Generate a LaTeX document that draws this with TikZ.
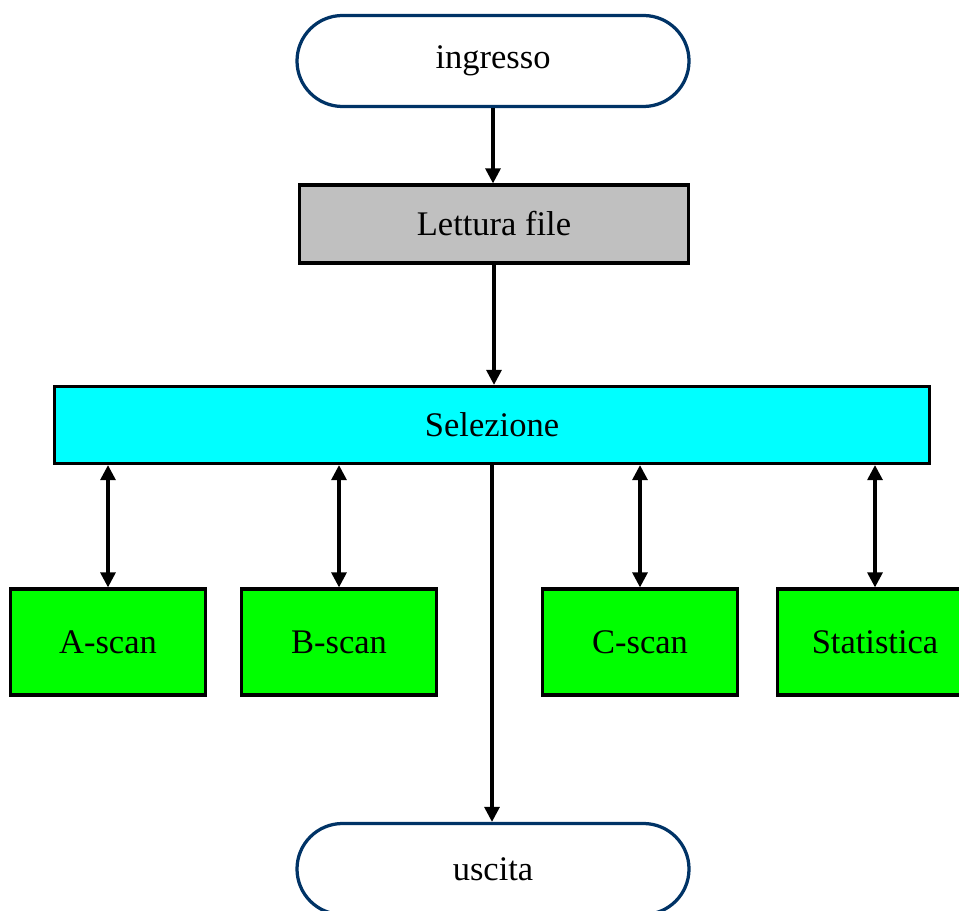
\documentclass[tikz,border=0pt]{standalone}
\usepackage{fontspec}
\setmainfont{Liberation Serif}
\usetikzlibrary{arrows.meta,shapes.misc}
\definecolor{termblue}{RGB}{0,51,102}
\definecolor{silvergray}{RGB}{192,192,192}
\definecolor{selcyan}{RGB}{0,255,255}
\definecolor{modgreen}{RGB}{0,255,0}
\begin{document}
\begin{tikzpicture}[x=0.4pt,y=-0.4pt,
  every node/.style={font=\fontsize{13.8}{16}\selectfont, inner sep=0pt},
  terminal/.style={rounded rectangle, draw=termblue, line width=1.3pt, fill=white,
    minimum width=156.8pt, minimum height=36.4pt},
  readbox/.style={rectangle, draw=black, line width=1.3pt, fill=silvergray,
    minimum width=155.6pt, minimum height=31.2pt},
  selbox/.style={rectangle, draw=black, line width=1.3pt, fill=selcyan,
    minimum width=350pt, minimum height=30.8pt},
  modbox/.style={rectangle, draw=black, line width=1.3pt, fill=modgreen,
    minimum width=78pt, minimum height=42.4pt},
  arr/.style={line width=1.25pt, -{Triangle[width=6pt,length=6pt]}},
  darr/.style={line width=1.25pt, {Triangle[width=6pt,length=6pt]}-{Triangle[width=6pt,length=6pt]}}
]
\useasboundingbox (0,0) rectangle (959,911);
\clip (0,0) rectangle (959,911);

\node[terminal] (ingresso) at (493,61) {\raisebox{-1pt}{ingresso}};
\node[readbox] (lettura) at (494,224) {Lettura file};
\node[selbox] (selezione) at (492,425) {Selezione};
\node[modbox] (ascan) at (108,642) {A-scan};
\node[modbox] (bscan) at (339,642) {B-scan};
\node[modbox] (cscan) at (640,642) {C-scan};
\node[modbox] (stat) at (875,642) {Statistica};
\node[terminal] (uscita) at (493,869) {uscita};

\draw[arr] (ingresso.south) -- (ingresso.south |- lettura.north);
\draw[arr] (lettura.south) -- (lettura.south |- selezione.north);
\draw[arr] (selezione.south) -- (selezione.south |- uscita.north);
\foreach \m in {ascan,bscan,cscan,stat}
  \draw[darr] (\m.north |- selezione.south) -- (\m.north);
\end{tikzpicture}
\end{document}
